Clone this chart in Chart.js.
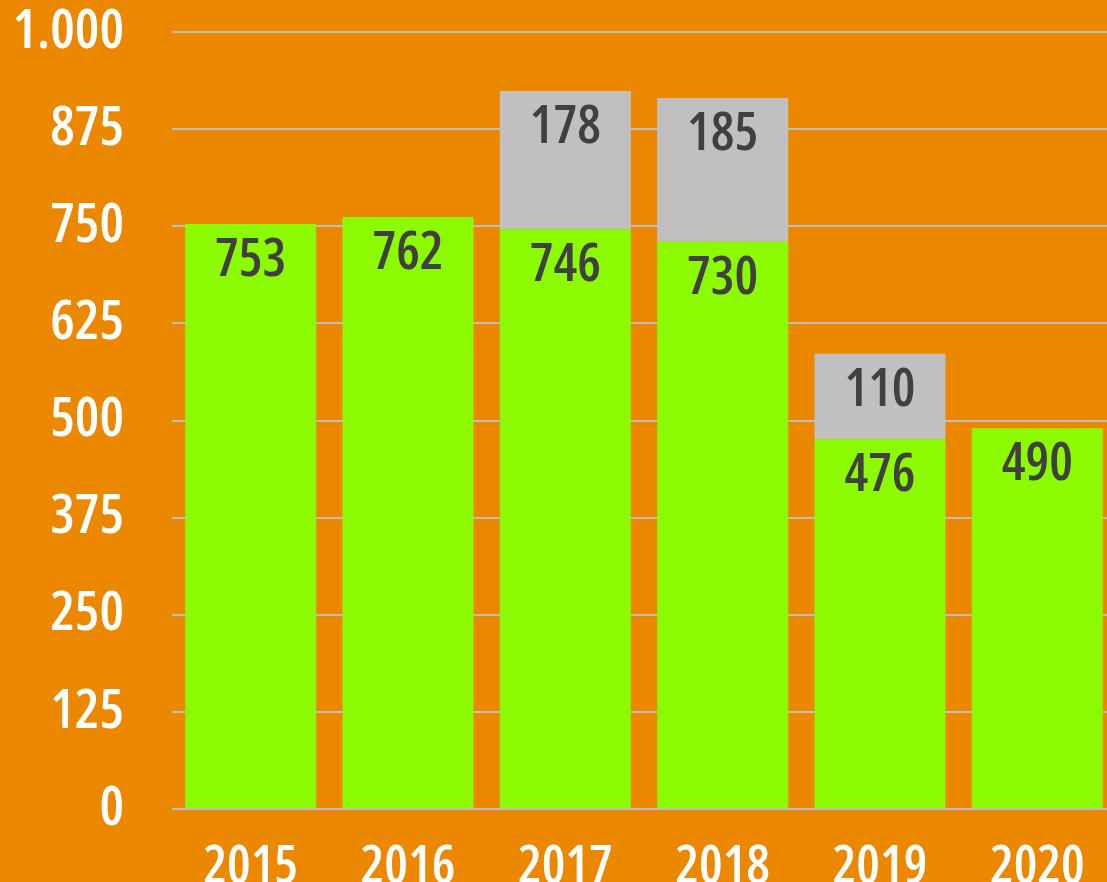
<!DOCTYPE html>
<html>
<head>
<meta charset="utf-8">
<script src="https://cdn.jsdelivr.net/npm/chart.js@4"></script>
<style>
  html, body { margin: 0; padding: 0; overflow: hidden; background: #EC8800; }
  #wrap { width: 1120px; height: 882px; }
</style>
</head>
<body>
<div id="wrap"><canvas id="myChart" width="1120" height="882"></canvas></div>
<script>
// Data
const years = ['2015', '2016', '2017', '2018', '2019', '2020'];
const baseValues = [753, 762, 746, 730, 476, 490];
const extraValues = [null, null, 178, 185, 110, null];
const yTicks = [0, 125, 250, 375, 500, 625, 750, 875, 1000];

// the original uses a narrow DIN-like face; use a condensed one if the system has it
function pickFont() {
    const c = document.createElement('canvas').getContext('2d');
    c.font = "600 100px 'Open Sans'";
    const w1 = c.measureText('0000').width;
    c.font = "600 condensed 100px 'Open Sans'";
    const w2 = c.measureText('0000').width;
    if (w2 < w1 * 0.9) return { family: "'Open Sans'", weight: '600 condensed' };
    return { family: "'DejaVu Sans Condensed', sans-serif", weight: 'normal' };
}
const F = pickFont();

const valueLabels = {
    id: 'valueLabels',
    afterDatasetsDraw(chart) {
        const ctx = chart.ctx;
        ctx.save();
        ctx.font = F.weight + ' 53px ' + F.family;
        ctx.fillStyle = '#404040';
        ctx.textAlign = 'center';
        ctx.textBaseline = 'alphabetic';
        chart.data.datasets.forEach((ds, i) => {
            const meta = chart.getDatasetMeta(i);
            meta.data.forEach((bar, j) => {
                const v = ds.data[j];
                if (v == null) return;
                ctx.fillText(String(v), bar.x, bar.y + 52);
            });
        });
        ctx.restore();
    }
};

const ctx = document.getElementById('myChart').getContext('2d');

new Chart(ctx, {
    type: 'bar',
    data: {
        labels: years,
        datasets: [{
            data: baseValues,
            backgroundColor: '#8CFA00',
            categoryPercentage: 1,
            barPercentage: 0.833
        }, {
            data: extraValues,
            backgroundColor: '#C0C0C0',
            categoryPercentage: 1,
            barPercentage: 0.833
        }]
    },
    options: {
        responsive: false,
        animation: false,
        devicePixelRatio: 1,
        layout: { padding: { top: 32, right: 4, left: 0, bottom: 0 } },
        plugins: {
            legend: { display: false },
            tooltip: { enabled: false }
        },
        scales: {
            x: {
                stacked: true,
                grid: { display: false },
                border: { display: false },
                ticks: {
                    color: '#FFFFFF',
                    font: { family: F.family, weight: F.weight, size: 53 },
                    padding: 19
                },
                afterFit: s => {
                    s.height = 73;
                    s.paddingLeft = 0; s.paddingRight = 0;
                }
            },
            y: {
                stacked: true,
                min: 0,
                max: 1000,
                afterBuildTicks: s => { s.ticks = yTicks.map(v => ({ value: v })); },
                grid: { color: '#BFBFBF', lineWidth: 2, drawTicks: false },
                border: { display: false },
                ticks: {
                    color: '#FFFFFF',
                    font: { family: F.family, weight: F.weight, size: 55 },
                    padding: 48,
                    callback: v => String(v).replace(/\B(?=(\d{3})+(?!\d))/g, '.')
                },
                afterFit: s => {
                    s.width = 172;
                    s.paddingTop = 0; s.paddingBottom = 0;
                }
            }
        }
    },
    plugins: [valueLabels]
});
</script>
</body>
</html>
